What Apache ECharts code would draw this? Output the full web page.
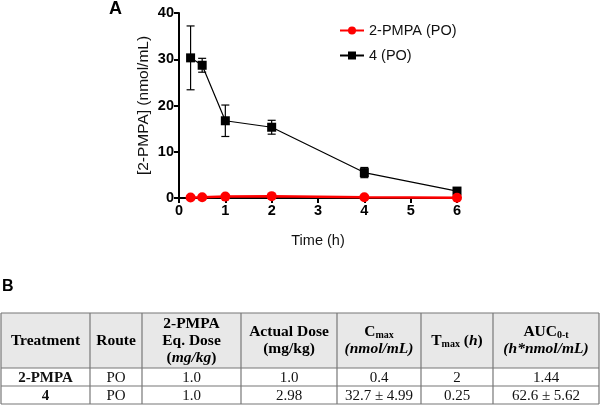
<!DOCTYPE html>
<html>
<head>
<meta charset="utf-8">
<script src="https://cdn.jsdelivr.net/npm/echarts@6/dist/echarts.min.js"></script>
<style>
html,body{margin:0;padding:0;background:#fff;}
#chart{width:600px;height:405px;}
</style>
</head>
<body>
<div id="chart"></div>
<script>
// time points (h)
var times = [0.25, 0.5, 1, 2, 4, 6];
// 2-PMPA (PO)
var pmpaMean = [0.1, 0.15, 0.3, 0.4, 0.15, 0.05];
// compound 4 (PO), mean and SD
var cpd4Mean = [30.3, 28.7, 16.7, 15.3, 5.5, 1.5];
var cpd4Sd = [6.9, 1.5, 3.4, 1.5, 1.1, 0.4];
var xTicks = [0, 1, 2, 3, 4, 5, 6];
var yTicks = [0, 10, 20, 30, 40];

// table B
var tableHead = [
  '{b|Treatment}',
  '{b|Route}',
  '{b|2-PMPA}\n{b|Eq. Dose}\n{b|(}{bi|mg/kg}{b|)}',
  '{b|Actual Dose}\n{b|(mg/kg)}',
  '{b|C}{s|max}\n{bi|(nmol/mL)}',
  '{b|T}{s|max}{b| (}{bi|h}{b|)}',
  '{b|AUC}{s|0-t}\n{bi|(h*nmol/mL)}'
];
var tableRows = [
  ['2-PMPA', 'PO', '1.0', '1.0', '0.4', '2', '1.44'],
  ['4', 'PO', '1.0', '2.98', '32.7 ± 4.99', '0.25', '62.6 ± 5.62']
];
var colEdges = [1, 90, 142, 241, 337, 421, 493, 599];
var rowEdges = [313, 368, 386, 404];

var chart = echarts.init(document.getElementById('chart'));

function zip(xs, ys) {
  return xs.map(function (x, i) { return [x, ys[i]]; });
}

var serifRich = {
  b: {fontFamily: 'Liberation Serif', fontWeight: 'bold', fontSize: 15.5, lineHeight: 17, color: '#111'},
  bi: {fontFamily: 'Liberation Serif', fontWeight: 'bold', fontStyle: 'italic', fontSize: 15.5, lineHeight: 17, color: '#111'},
  s: {fontFamily: 'Liberation Serif', fontWeight: 'bold', fontSize: 10, lineHeight: 17, verticalAlign: 'bottom', color: '#111'}
};

var graphics = [
  {type: 'text', left: 109, top: 0, style: {text: 'A', font: 'bold 18px Liberation Sans', fill: '#000'}},
  {type: 'text', left: 2, top: 279, style: {text: 'B', font: 'bold 16px Liberation Sans', fill: '#000'}}
];
// header background
graphics.push({type: 'rect', shape: {x: colEdges[0], y: rowEdges[0], width: colEdges[7] - colEdges[0], height: rowEdges[1] - rowEdges[0]},
  style: {fill: '#e8e8e8'}, z: 1});
// grid lines
rowEdges.forEach(function (y) {
  graphics.push({type: 'line', shape: {x1: colEdges[0], y1: y, x2: colEdges[7], y2: y}, style: {stroke: '#777', lineWidth: 1.2}, z: 2});
});
colEdges.forEach(function (x) {
  graphics.push({type: 'line', shape: {x1: x, y1: rowEdges[0], x2: x, y2: rowEdges[3]}, style: {stroke: '#777', lineWidth: 1.2}, z: 2});
});
// cells
tableHead.forEach(function (t, c) {
  graphics.push({type: 'text', z: 3,
    x: (colEdges[c] + colEdges[c + 1]) / 2, y: (rowEdges[0] + rowEdges[1]) / 2,
    style: {text: t, rich: serifRich, align: 'center', verticalAlign: 'middle'}});
});
tableRows.forEach(function (row, r) {
  row.forEach(function (t, c) {
    graphics.push({type: 'text', z: 3,
      x: (colEdges[c] + colEdges[c + 1]) / 2, y: (rowEdges[r + 1] + rowEdges[r + 2]) / 2 + 1,
      style: {text: t, align: 'center', verticalAlign: 'middle', fill: '#111',
        font: (c === 0 ? 'bold ' : '') + '15px Liberation Serif'}});
  });
});

chart.setOption({
  animation: false,
  backgroundColor: '#fff',
  grid: {left: 179, right: 143, top: 13, bottom: 207, containLabel: false},
  legend: {
    orient: 'vertical', left: 334, top: 18, itemGap: 10, itemWidth: 24, itemHeight: 10,
    textStyle: {fontFamily: 'Liberation Sans', fontSize: 14.5, color: '#111'},
    data: ['2-PMPA (PO)', '4 (PO)']
  },
  xAxis: {
    type: 'value', min: 0, max: 6, interval: 1,
    name: 'Time (h)', nameLocation: 'middle', nameGap: 35,
    nameTextStyle: {fontFamily: 'Liberation Sans', fontSize: 14.5, color: '#111'},
    axisLine: {lineStyle: {color: '#000', width: 2}},
    axisTick: {length: 5, lineStyle: {color: '#000', width: 2}},
    axisLabel: {fontFamily: 'Liberation Sans', fontWeight: 'bold', fontSize: 14.5, color: '#000', margin: 5,
      formatter: function (v) { return xTicks.indexOf(v) >= 0 ? String(v) : ''; }},
    splitLine: {show: false}
  },
  yAxis: {
    type: 'value', min: 0, max: 40, interval: 10,
    name: '[2-PMPA] (nmol/mL)', nameLocation: 'middle', nameGap: 27,
    nameTextStyle: {fontFamily: 'Liberation Sans', fontSize: 15.5, color: '#111'},
    axisLine: {show: true, lineStyle: {color: '#000', width: 2}},
    axisTick: {show: true, length: 5, lineStyle: {color: '#000', width: 2}},
    axisLabel: {fontFamily: 'Liberation Sans', fontWeight: 'bold', fontSize: 14.5, color: '#000', margin: 5,
      formatter: function (v) { return yTicks.indexOf(v) >= 0 ? String(v) : ''; }},
    splitLine: {show: false}
  },
  series: [
    {
      name: '4 (PO)', type: 'line', data: zip(times, cpd4Mean),
      symbol: 'rect', symbolSize: 9, z: 3,
      itemStyle: {color: '#000'}, lineStyle: {color: '#000', width: 1.2}
    },
    {
      name: '4 SD', type: 'custom', z: 2,
      data: times.map(function (t, i) { return [t, cpd4Mean[i] - cpd4Sd[i], cpd4Mean[i] + cpd4Sd[i]]; }),
      renderItem: function (params, api) {
        var lo = api.coord([api.value(0), api.value(1)]);
        var hi = api.coord([api.value(0), api.value(2)]);
        var w = 4;
        var st = {stroke: '#000', lineWidth: 1.2};
        return {type: 'group', children: [
          {type: 'line', shape: {x1: lo[0], y1: lo[1], x2: hi[0], y2: hi[1]}, style: st},
          {type: 'line', shape: {x1: lo[0] - w, y1: lo[1], x2: lo[0] + w, y2: lo[1]}, style: st},
          {type: 'line', shape: {x1: hi[0] - w, y1: hi[1], x2: hi[0] + w, y2: hi[1]}, style: st}
        ]};
      }
    },
    {
      name: '2-PMPA (PO)', type: 'line', data: zip(times, pmpaMean),
      symbol: 'circle', symbolSize: 10, z: 4,
      itemStyle: {color: '#ff0000'}, lineStyle: {color: '#ff0000', width: 2.5}
    }
  ],
  graphic: graphics
});
</script>
</body>
</html>
